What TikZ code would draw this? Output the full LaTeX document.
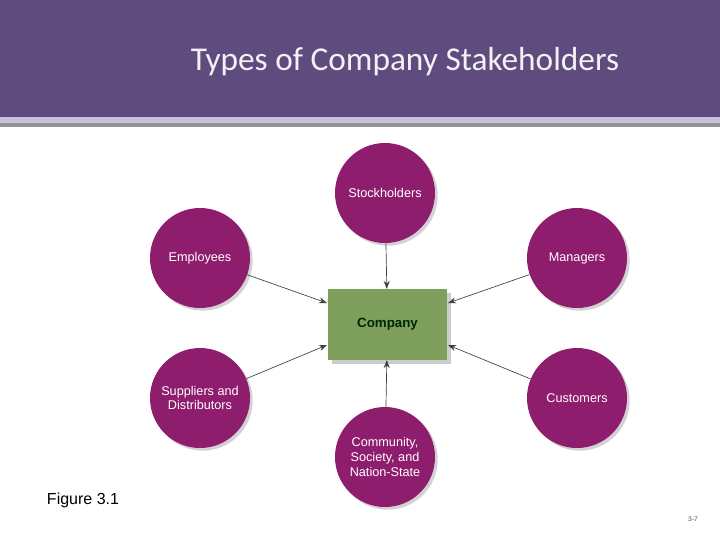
\documentclass[tikz,border=0pt]{standalone}
\usepackage{fontspec}
\setmainfont{Liberation Sans}
\newfontfamily\titlefont{Carlito}
\usetikzlibrary{arrows.meta}
\definecolor{bandpurple}{HTML}{5F4B7D}
\definecolor{bandlilac}{HTML}{C9C0DA}
\definecolor{bandgray}{HTML}{939393}
\definecolor{stakepink}{HTML}{8F1D6E}
\definecolor{boxgreen}{HTML}{7FA05C}
\tikzset{
  stake/.style={circle,fill=stakepink,minimum size=75pt,inner sep=0pt,text=white,
    align=center,font=\fontsize{9.5pt}{11pt}\selectfont,
    preaction={fill=black!35,opacity=0.5,transform canvas={shift={(2pt,-2pt)}}}},
  link/.style={draw=black!75,line width=0.5pt,-{Stealth[length=6pt,width=4.5pt]}}
}
\begin{document}
\begin{tikzpicture}[x=0.75pt,y=-0.75pt]
  \useasboundingbox (0,0) rectangle (720,540);
  \fill[bandpurple] (0,0) rectangle (720,117);
  \fill[bandlilac] (0,117) rectangle (720,123);
  \fill[bandgray] (0,123) rectangle (720,127);
  \node[text=white!92!bandpurple,font=\titlefont\fontsize{25pt}{28pt}\selectfont] (title) at (405,62) {Types of Company Stakeholders};
  % stakeholders
  \node[stake] (stock) at (385,193) {Stockholders};
  \node[stake] (empl) at (200,258) {Employees};
  \node[stake] (mana) at (577,258) {Managers};
  \node[stake] (supp) at (200,398) {Suppliers and\\Distributors};
  \node[stake] (cust) at (577,398) {Customers};
  \node[stake] (comm) at (385,457) {Community,\\Society, and\\Nation-State};
  % company
  \node[fill=boxgreen,minimum width=89pt,minimum height=53pt,inner sep=0pt,
    font=\bfseries\fontsize{10pt}{12pt}\selectfont,text=black!85!green,
    preaction={fill=black!40,opacity=0.5,transform canvas={shift={(3pt,-3pt)}}}] (company) at (387.5,324.5) {Company};
  \coordinate (inEmpl) at (327,303);
  \coordinate (inSupp) at (327,345);
  \coordinate (inMana) at (448,303);
  \coordinate (inCust) at (448,345);
  \path
    (stock) edge[link] (company)
    (comm) edge[link] (company)
    (empl) edge[link] (inEmpl)
    (supp) edge[link] (inSupp)
    (mana) edge[link] (inMana)
    (cust) edge[link] (inCust);
  \node[font=\fontsize{12pt}{14pt}\selectfont] (fig) at (83,500) {Figure 3.1};
  \node[font=\fontsize{5pt}{6pt}\selectfont,text=black!70] (page) at (693,519) {3-7};
\end{tikzpicture}
\end{document}
